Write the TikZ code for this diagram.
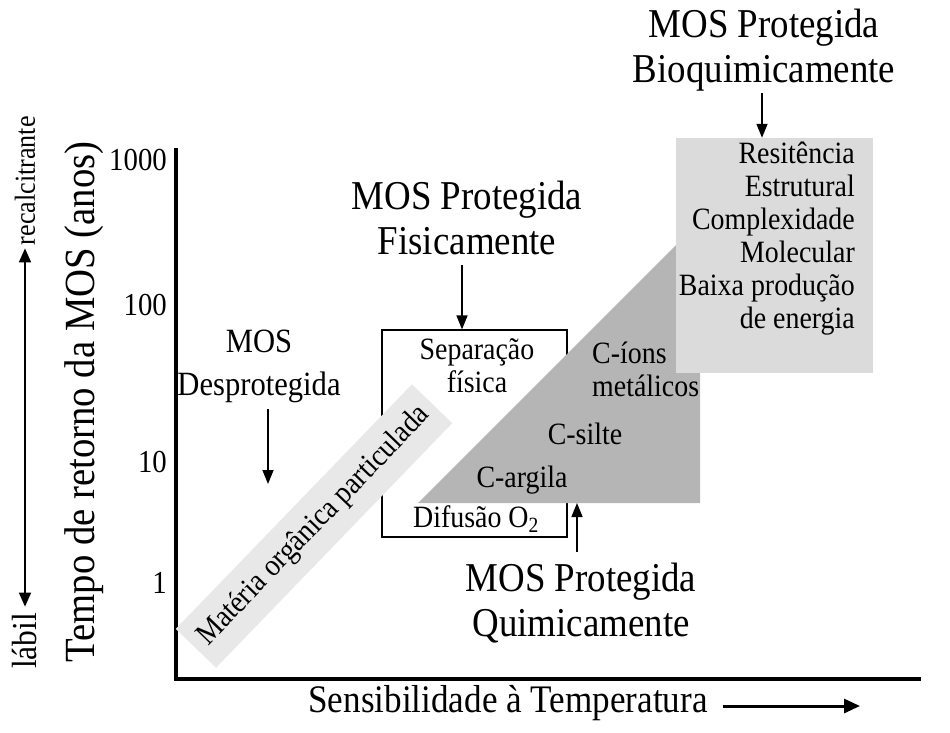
\documentclass[tikz,border=0pt]{standalone}
\usepackage{fontspec}
\setmainfont{Liberation Serif}[FakeStretch=0.9]
\usetikzlibrary{arrows.meta,calc}
\definecolor{stripgray}{gray}{0.91}
\definecolor{trigray}{gray}{0.71}
\definecolor{boxgray}{gray}{0.86}
\begin{document}
\begin{tikzpicture}[x=1pt,y=-1pt,
  lbl/.style={inner sep=0pt, align=center},
  ttl/.style={lbl, font=\fontsize{41}{45}\selectfont},
  tick/.style={inner sep=0pt, anchor=east, font=\fontsize{32}{36}\selectfont},
  small/.style={lbl, font=\fontsize{31}{33}\selectfont},
  arr/.style={-{Triangle[length=14pt,width=11pt]}, line width=1.5pt},
  axis/.style={line width=4.5pt}
]
\useasboundingbox (0,0) rectangle (950,732);

% axes
\coordinate (top) at (176,148);
\coordinate (orig) at (176,679);
\coordinate (xend) at (921,679);
\draw[axis] (top) -- (orig |- 0,681);
\draw[axis] (174,679) -- (xend);

% ticks
\node[tick] (t1000) at (167,160) {1000};
\node[tick] (t100) at (167,305) {100};
\node[tick] (t10) at (167,462) {10};
\node[tick] (t1) at (167,583) {1};

% y titles
\node[lbl, rotate=90, font=\fontsize{43}{46}\selectfont] (ytitle) at (84,402) {Tempo de retorno da MOS (anos)};
\node[lbl, rotate=90, font=\fontsize{29}{30}\selectfont, anchor=east] (recal) at (25,116) {recalcitrante};
\node[lbl, rotate=90, font=\fontsize{35}{36}\selectfont, anchor=west] (labil) at (25,669) {lábil};
\draw[{Triangle[length=14pt,width=12pt]}-{Triangle[length=14pt,width=12pt]}, line width=1.5pt] ($(recal.west)+(0,3)$) -- ($(labil.east)+(0,-6)$);

% x title
\node[lbl, font=\fontsize{39}{42}\selectfont] (xtitle) at (508,703) {Sensibilidade à Temperatura};
\coordinate (xa) at (723,706);
\coordinate (xb) at (860,706);
\draw[-{Triangle[length=16pt,width=14pt]}, line width=3pt] (xa) -- (xb);

% physical box
\node[draw, line width=1.2pt, minimum width=185pt, minimum height=207pt, inner sep=0pt] (fbox) at (474.5,433.5) {};
\node[small] (sep) at (477,366) {Separação\\física};
\node[small] (dif) at (476,519) {Difusão O\textsubscript{2}};

% strip
\node[rotate=46, fill=stripgray, minimum width=340pt, minimum height=56pt, inner sep=0pt, font=\fontsize{31}{33}\selectfont] (strip) at (314,526) {Matéria orgânica particulada};

% triangle
\coordinate (ta) at (418,503);
\coordinate (tb) at (700,221);
\coordinate (tc) at (700,503);
\fill[trigray] (ta) -- (tb) -- (tc) -- cycle;
\node[small, align=left, anchor=west] (ions) at (592,369) {C-íons\\metálicos};
\node[small] (silte) at (585,434) {C-silte};
\node[small] (argila) at (522,480) {C-argila};

% biochemical box
\node[fill=boxgray, minimum width=197pt, minimum height=235pt, inner sep=0pt] (bbox) at (774.5,255.5) {};
\node[lbl, align=right, anchor=east, font=\fontsize{31}{33}\selectfont] (btext) at (855,239) {Resitência\\Estrutural\\Complexidade\\Molecular\\Baixa produção\\de energia};

% titles
\node[ttl] (bioT) at (764,50) {MOS Protegida\\Bioquimicamente};
\node[ttl] (fisT) at (467,218) {MOS Protegida\\Fisicamente};
\node[lbl, font=\fontsize{34}{43}\selectfont] (desT) at (259,366) {MOS\\Desprotegida};
\node[ttl] (quiT) at (581,603) {MOS Protegida\\Quimicamente};

% arrows
\coordinate (ab) at (762,93);
\draw[arr] (ab) -- (ab |- bbox.north);
\coordinate (af) at (462,265);
\draw[arr] (af) -- (af |- fbox.north);
\coordinate (ad) at (268,409);
\coordinate (adend) at (268,484);
\draw[arr] (ad) -- (adend);
\coordinate (aq) at (577,552);
\draw[arr] (aq) -- (aq |- tc);
\end{tikzpicture}
\end{document}
